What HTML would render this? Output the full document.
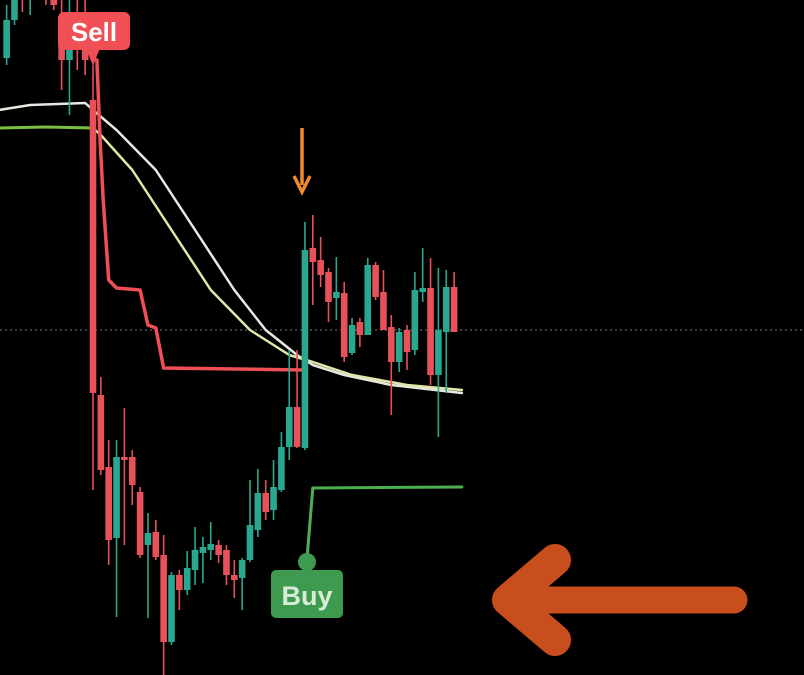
<!DOCTYPE html>
<html><head><meta charset="utf-8"><style>
html,body{margin:0;padding:0;background:#000;}
svg{display:block;}
</style></head><body>
<svg id="chart" width="804" height="675" viewBox="0 0 804 675" xmlns="http://www.w3.org/2000/svg">
<rect x="0" y="0" width="804" height="675" fill="#000"/>
<line x1="0" y1="330" x2="804" y2="330" stroke="#777" stroke-width="1" stroke-dasharray="2,3"/>
<g id="ind"></g>
<g id="candles"></g>
<g id="overlay"></g>
</svg>
<script>
const startIndex = -11;
const opens  = [642,680,730,700,720,715,710,680,640,680,685, 600,305,233,162,243,243,208,155,168,145,58,125,110,130,147,150,155,150,125,122,140,170,207,190,210,253,293,252,452,440,428,402,407,347,378,365,435,408,373,338,370,350,408,412,325,368,413];
const highs  = [695,720,740,730,735,730,725,700,720,720,700, 635,323,260,260,292,250,213,187,180,165,128,130,149,173,163,178,160,155,140,142,220,231,220,240,268,350,350,478,485,463,432,443,418,382,382,442,438,430,385,372,375,428,452,442,432,430,428];
const lows   = [635,675,688,685,700,695,690,610,585,630,625, 210,225,135,83,155,195,142,82,140,25,55,90,105,115,117,140,137,115,102,90,138,163,180,180,208,240,252,250,395,413,378,380,338,345,353,365,400,370,285,328,330,345,398,315,263,307,368];
const closes = [680,710,700,720,705,700,695,640,655,650,640, 307,230,160,243,240,215,145,167,143,58,125,110,132,150,153,156,145,125,120,140,175,207,188,213,253,293,253,450,438,425,398,408,343,375,365,435,403,370,338,368,348,410,412,325,370,413,368];
const whiteMA  = [[-12,590],[-8,595],[-1,597],[0,590],[3,570],[8,530],[13,470],[18,410],[22,370],[26,345],[28,335],[32,325],[38,315],[47,307]];
const greenMA  = [[-12,572],[-6,573],[0,572]];
const yellowMA = [[0,572],[1,565],[5,530],[10,470],[15,410],[20,370],[25,345],[28,338],[33,325],[40,315],[47,310]];
const sellTrail = [[0.5,640],[0.9,560],[1.3,500],[2,420],[3,412],[6,410],[7,375],[8,372],[9,332],[27,330]];
const buyTrail  = [[27.3,145],[28,212],[47,213]];

const X0 = 93, STEP = 7.85;
function xScale(i){ return X0 + i*STEP; }
function yScale(p){ return 700 - p; }
const NS = "http://www.w3.org/2000/svg";
function mk(tag, attrs, parent){ const e=document.createElementNS(NS,tag); for(const k in attrs) e.setAttribute(k,attrs[k]); parent.appendChild(e); return e; }

const ind = document.getElementById('ind');
function drawLine(pts, color, w, name){
  const d = pts.map((p,j)=>(j?'L':'M')+xScale(p[0]).toFixed(1)+' '+yScale(p[1]).toFixed(1)).join(' ');
  const el = mk('path',{d:d,fill:'none',stroke:color,'stroke-width':w,'stroke-linejoin':'round','stroke-linecap':'round'},ind);
  
  
}
drawLine(whiteMA,'#e8e8e0',2.5,'white-moving-average');
drawLine(greenMA,'#7bc043',3,'green-moving-average');
drawLine(yellowMA,'#e2e6a8',2.5,'yellow-moving-average');
drawLine(sellTrail,'#ef4f55',3.5,'sell-trailing-stop');
drawLine(buyTrail,'#4caf50',3,'buy-trailing-stop');

const cg = document.getElementById('candles');
for(let k=0;k<opens.length;k++){
  const i = startIndex + k;
  const x = xScale(i);
  const up = closes[k] >= opens[k];
  const col = up ? '#2aa88f' : '#e8505a';
  const g = mk('g',{},cg);
  
  
  mk('line',{x1:x,x2:x,y1:yScale(highs[k]),y2:yScale(lows[k]),stroke:col,'stroke-width':1.6},g);
  const top = yScale(Math.max(opens[k],closes[k]));
  const h = Math.max(2, Math.abs(opens[k]-closes[k]));
  mk('rect',{x:x-3.3,y:top,width:6.6,height:h,fill:col},g);
}
</script>
<svg width="804" height="675" viewBox="0 0 804 675" style="position:absolute;left:0;top:0" xmlns="http://www.w3.org/2000/svg">
  <g>
    <path d="M86 48 L93 66 L100 48 Z" fill="#ef4f55"/>
    <rect x="58" y="12" width="72" height="38" rx="6" fill="#ef4f55"/>
    <text x="94" y="41" text-anchor="middle" font-family="Liberation Sans, sans-serif" font-size="26" font-weight="bold" fill="#fff">Sell</text>
  </g>
  <g>
    <circle cx="307" cy="562" r="9" fill="#3e9a4e"/>
    <rect x="271" y="570" width="72" height="48" rx="5" fill="#3e9a4e"/>
    <text x="307" y="605" text-anchor="middle" font-family="Liberation Sans, sans-serif" font-size="27" font-weight="bold" fill="#d8ecd8">Buy</text>
  </g>
  <g>
    <line x1="302" y1="128" x2="302" y2="185" stroke="#f08a2c" stroke-width="3.5"/>
    <path d="M294 176 L302 192 L310 176" fill="none" stroke="#f08a2c" stroke-width="3.5"/>
  </g>
  <g stroke="#c94e1e" stroke-linecap="round" stroke-linejoin="round" fill="none">
    <line x1="520" y1="600" x2="734" y2="600" stroke-width="27"/>
    <path d="M555 560 L508 600 L555 640" stroke-width="32"/>
  </g>
</svg>
</body></html>
